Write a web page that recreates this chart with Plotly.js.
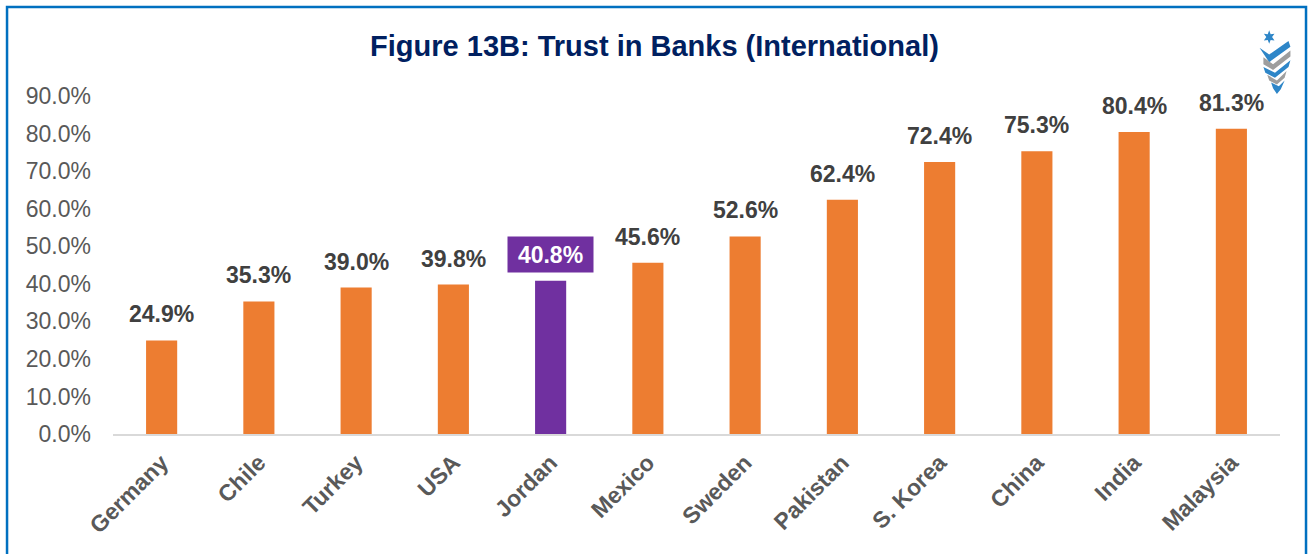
<!DOCTYPE html>
<html><head><meta charset="utf-8">
<script src="https://cdn.plot.ly/plotly-3.0.1.min.js"></script>
<style>html,body{margin:0;padding:0;background:#fff}#chart{width:1309px;height:554px}</style>
</head><body><div id="chart"></div>
<script>
const countries = ['Germany','Chile','Turkey','USA','Jordan','Mexico','Sweden','Pakistan','S. Korea','China','India','Malaysia'];
const trust = [0.249,0.353,0.390,0.398,0.408,0.456,0.526,0.624,0.724,0.753,0.804,0.813];
const highlight = 'Jordan';
const yTicks = [0,0.1,0.2,0.3,0.4,0.5,0.6,0.7,0.8,0.9];

const orange = '#ED7D31', purple = '#7030A0';
const FONT = 'Liberation Sans, Arial, sans-serif';
const colors = countries.map(c => c === highlight ? purple : orange);

const labelAnnotations = countries.map((c, i) => {
  const isHi = c === highlight;
  const a = {
    x: c, y: trust[i], xref: 'x', yref: 'y', yanchor: 'middle', yshift: 26,
    text: '<b>' + (trust[i]*100).toFixed(1) + '%</b>', showarrow: false,
    font: {family: FONT, size: 23, color: isHi ? '#FFFFFF' : '#404040'}
  };
  if (isHi) { a.bgcolor = purple; a.width = 83; a.height = 33; a.borderpad = 1; }
  return a;
});

const logoSvg = `<svg xmlns="http://www.w3.org/2000/svg" width="40" height="70" viewBox="0 0 40 70">
<polygon points="14,2 15.5,6 19.5,5.5 17,9 19.5,12.5 15.5,12 14,16 12.5,12 8.5,12.5 11,9 8.5,5.5 12.5,6" fill="#2E86C8"/>
<path d="M4 20 L14 27 L34 13 L36 19 L14 35 Z" fill="#2E86C8"/>
<path d="M8 30 L18 37 L36 23 L36 29 L18 43 L8 37 Z" fill="#9E9E9E"/>
<path d="M8 40 L20 46 L36 33 L34 40 L20 51 L10 46 Z" fill="#2E86C8"/>
<path d="M12 48 L22 54 L32 44 L30 51 L22 58 L14 54 Z" fill="#9E9E9E"/>
<path d="M16 56 L24 60 L30 54 L26 63 L22 68 L18 62 Z" fill="#2E86C8"/>
</svg>`;
const logoUri = 'data:image/svg+xml;base64,' + btoa(logoSvg);

const trace = {
  type: 'bar',
  x: countries,
  y: trust,
  marker: {color: colors},
  width: 0.32,
  hoverinfo: 'x+y'
};

const layout = {
  width: 1309, height: 554,
  margin: {l: 113, r: 29, t: 96, b: 120},
  paper_bgcolor: '#fff', plot_bgcolor: '#fff',
  showlegend: false,
  title: {text: '<b>Figure 13B: Trust in Banks (International)</b>', x: 0.5, xanchor: 'center', y: 0.917, yanchor: 'middle',
          font: {family: FONT, size: 29, color: '#002060'}},
  xaxis: {
    type: 'category', tickangle: -45, showgrid: false, showline: true, linecolor: '#D9D9D9', linewidth: 2,
    ticks: '', tickfont: {family: FONT, size: 23, color: '#595959', weight: 'bold'},
    ticklabelstandoff: 4
  },
  yaxis: {
    range: [0, 0.9], tickvals: yTicks, tickformat: '.1%', showgrid: false, zeroline: false, showline: false,
    ticks: '', ticklabelstandoff: 21,
    tickfont: {family: FONT, size: 23, color: '#595959'}
  },
  annotations: labelAnnotations,
  shapes: [{
    type: 'rect', xref: 'paper', yref: 'paper', x0: -0.0908, x1: 1.0223, y0: -0.4, y1: 1.263,
    line: {color: '#0070C0', width: 2.5}, fillcolor: 'rgba(0,0,0,0)', layer: 'below'
  }],
  images: [{
    source: logoUri, xref: 'paper', yref: 'paper', x: 0.9957, y: 1.2, sizex: 0.04, sizey: 0.2,
    xanchor: 'center', yanchor: 'top', sizing: 'contain', layer: 'above'
  }]
};

Plotly.newPlot('chart', [trace], layout, {displayModeBar: false, staticPlot: true});
</script></body></html>
